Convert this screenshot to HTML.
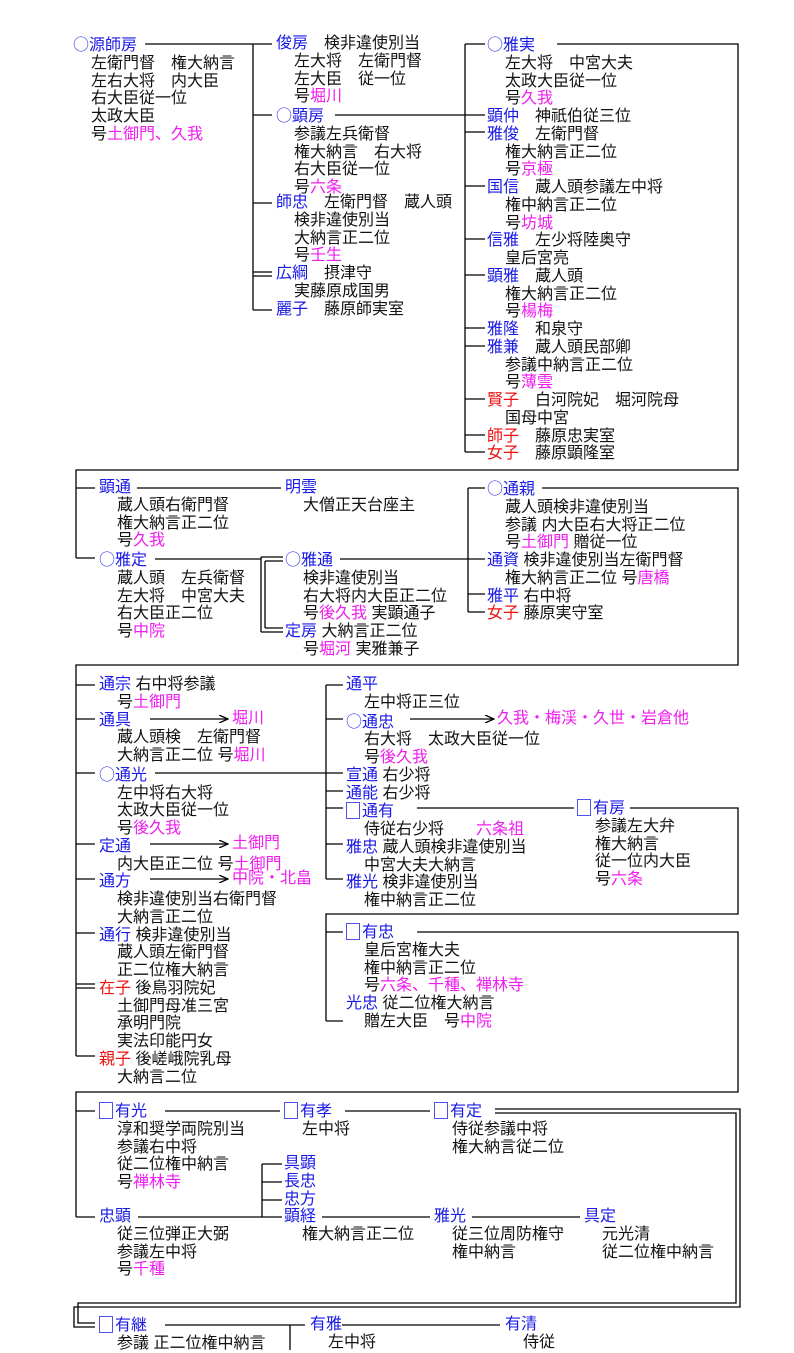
<!DOCTYPE html>
<html><head><meta charset="utf-8">
<style>
html,body{margin:0;padding:0;background:#fff;}
body{width:794px;height:1350px;position:relative;overflow:hidden;font-family:"Liberation Sans","Noto Sans CJK JP",sans-serif;font-size:16px;color:#111;}
.b{position:absolute;line-height:17.75px;white-space:pre;}
.b div+div{padding-left:18px;}
.n{color:#1a1ae6;}
.p{color:#f01cf0;}
.r{color:#f01010;}
.c{font-family:"Noto Sans CJK JP",sans-serif;font-weight:300;}
.q{display:inline-block;width:14px;height:17px;border:1px solid #5050ee;vertical-align:-3px;margin-right:2px;box-sizing:border-box;}
svg{position:absolute;left:0;top:0;}
</style></head><body>
<svg width="794" height="1350" stroke="#000" stroke-width="1.3" fill="none">
<defs><marker id="a" markerWidth="10" markerHeight="8" refX="9" refY="4" orient="auto" markerUnits="userSpaceOnUse"><path d="M0,0 L9,4 L0,8" stroke="#000" fill="none"/></marker></defs>
<path d="M145 44H253M253 44V310M253 44H272M253 115H272M253 203H272M253 272H272M253 276H272M253 310H272"/>
<path d="M335 115H465"/>
<path d="M465 44V452M465 44H485M465 115H485M465 132H485M465 186H485M465 239H485M465 275H485M465 328H485M465 346H485M465 399H485M465 435H485M465 452H485"/>
<path d="M557 44H738V470H76V558M76 488H95M76 558H95"/>
<path d="M137 488H281M155 559H261"/>
<path d="M261 557H283M265 561H283M261 557V632M265 561V628M265 628H283M261 632H283"/>
<path d="M340 559H468M468 488V612M468 488H485M468 559H485M468 594H485M468 612H485"/>
<path d="M542 488H738V665H76V1056"/>
<path d="M76 685H95M76 719H95M76 773H95M76 844H95M76 879H95M76 933H95M76 984H95M76 988H95M76 1056H95"/>
<path d="M150 719H228" marker-end="url(#a)"/>
<path d="M150 844H228" marker-end="url(#a)"/>
<path d="M150 879H228" marker-end="url(#a)"/>
<path d="M410 719H494" marker-end="url(#a)"/>
<path d="M155 773H326M326 685V879M326 685H343M326 719H343M326 773H343M326 791H343M326 808H343M326 844H343M326 879H343"/>
<path d="M417 808H574M630 808H738V914H326V1021M326 932H343M326 1021H343"/>
<path d="M417 932H738V1092H76V1217M76 1111H95M76 1217H95"/>
<path d="M165 1111H280M345 1111H430"/>
<path d="M495 1109H740V1307H74V1327H95M495 1113H736V1303H78V1323H95"/>
<path d="M138 1217H282M262 1164V1217M262 1164H282M262 1182H282M262 1200H282M322 1217H430M472 1217H580"/>
<path d="M165 1325H305M290 1325V1350M342 1325H500"/>
</svg>

<div class="b" style="left:73px;top:35px"><div class="n"><span class="c">○</span>源師房</div><div>左衛門督　権大納言</div><div>左右大将　内大臣</div><div>右大臣従一位</div><div>太政大臣</div><div>号<span class="p">土御門、久我</span></div></div>
<div class="b" style="left:276px;top:35px"><div><span class="n">俊房</span>　検非違使別当</div><div>左大将　左衛門督</div><div>左大臣　従一位</div><div>号<span class="p">堀川</span></div></div>
<div class="b" style="left:276px;top:106px"><div class="n"><span class="c">○</span>顕房</div><div>参議左兵衛督</div><div>権大納言　右大将</div><div>右大臣従一位</div><div>号<span class="p">六条</span></div></div>
<div class="b" style="left:276px;top:194px"><div><span class="n">師忠</span>　左衛門督　蔵人頭</div><div>検非違使別当</div><div>大納言正二位</div><div>号<span class="p">壬生</span></div></div>
<div class="b" style="left:276px;top:265px"><div><span class="n">広綱</span>　摂津守</div><div>実藤原成国男</div></div>
<div class="b" style="left:276px;top:301px"><div><span class="n">麗子</span>　藤原師実室</div></div>

<div class="b" style="left:487px;top:35px"><div class="n"><span class="c">○</span>雅実</div><div>左大将　中宮大夫</div><div>太政大臣従一位</div><div>号<span class="p">久我</span></div><div style="padding-left:0"><span class="n">顕仲</span>　神祇伯従三位</div><div style="padding-left:0"><span class="n">雅俊</span>　左衛門督</div><div>権大納言正二位</div><div>号<span class="p">京極</span></div><div style="padding-left:0"><span class="n">国信</span>　蔵人頭参議左中将</div><div>権中納言正二位</div><div>号<span class="p">坊城</span></div><div style="padding-left:0"><span class="n">信雅</span>　左少将陸奥守</div><div>皇后宮亮</div><div style="padding-left:0"><span class="n">顕雅</span>　蔵人頭</div><div>権大納言正二位</div><div>号<span class="p">楊梅</span></div><div style="padding-left:0"><span class="n">雅隆</span>　和泉守</div><div style="padding-left:0"><span class="n">雅兼</span>　蔵人頭民部卿</div><div>参議中納言正二位</div><div>号<span class="p">薄雲</span></div><div style="padding-left:0"><span class="r">賢子</span>　白河院妃　堀河院母</div><div>国母中宮</div><div style="padding-left:0"><span class="r">師子</span>　藤原忠実室</div><div style="padding-left:0"><span class="r">女子</span>　藤原顕隆室</div></div>

<div class="b" style="left:99px;top:479px"><div class="n">顕通</div><div>蔵人頭右衛門督</div><div>権大納言正二位</div><div>号<span class="p">久我</span></div></div>
<div class="b" style="left:285px;top:479px"><div class="n">明雲</div><div>大僧正天台座主</div></div>
<div class="b" style="left:99px;top:550px"><div class="n"><span class="c">○</span>雅定</div><div>蔵人頭　左兵衛督</div><div>左大将　中宮大夫</div><div>右大臣正二位</div><div>号<span class="p">中院</span></div></div>
<div class="b" style="left:285px;top:550px"><div class="n"><span class="c">○</span>雅通</div><div>検非違使別当</div><div>右大将内大臣正二位</div><div>号<span class="p">後久我</span> 実顕通子</div><div style="padding-left:0"><span class="n">定房</span> 大納言正二位</div><div>号<span class="p">堀河</span> 実雅兼子</div></div>
<div class="b" style="left:487px;top:479px"><div class="n"><span class="c">○</span>通親</div><div>蔵人頭検非違使別当</div><div>参議 内大臣右大将正二位</div><div>号<span class="p">土御門</span> 贈従一位</div><div style="padding-left:0"><span class="n">通資</span> 検非違使別当左衛門督</div><div>権大納言正二位 号<span class="p">唐橋</span></div><div style="padding-left:0"><span class="n">雅平</span> 右中将</div><div style="padding-left:0"><span class="r">女子</span> 藤原実守室</div></div>

<div class="b" style="left:99px;top:676px"><div><span class="n">通宗</span> 右中将参議</div><div>号<span class="p">土御門</span></div><div style="padding-left:0"><span class="n">通具</span></div><div>蔵人頭検　左衛門督</div><div>大納言正二位 号<span class="p">堀川</span></div><div style="padding-left:0" class="n"><span class="c">○</span>通光</div><div>左中将右大将</div><div>太政大臣従一位</div><div>号<span class="p">後久我</span></div><div style="padding-left:0" class="n">定通</div><div>内大臣正二位 号<span class="p">土御門</span></div><div style="padding-left:0" class="n">通方</div><div>検非違使別当右衛門督</div><div>大納言正二位</div><div style="padding-left:0"><span class="n">通行</span> 検非違使別当</div><div>蔵人頭左衛門督</div><div>正二位権大納言</div><div style="padding-left:0"><span class="r">在子</span> 後鳥羽院妃</div><div>土御門母准三宮</div><div>承明門院</div><div>実法印能円女</div><div style="padding-left:0"><span class="r">親子</span> 後嵯峨院乳母</div><div>大納言二位</div></div>
<div class="b p" style="left:232px;top:710px">堀川</div>
<div class="b p" style="left:232px;top:835px">土御門</div>
<div class="b p" style="left:232px;top:870px">中院・北畠</div>

<div class="b" style="left:346px;top:676px"><div class="n">通平</div><div>左中将正三位</div><div style="padding-left:0" class="n"><span class="c">○</span>通忠</div><div>右大将　太政大臣従一位</div><div>号<span class="p">後久我</span></div><div style="padding-left:0"><span class="n">宣通</span> 右少将</div><div style="padding-left:0"><span class="n">通能</span> 右少将</div><div style="padding-left:0" class="n"><span class="q"></span>通有</div><div>侍従右少将　　<span class="p">六条祖</span></div><div style="padding-left:0"><span class="n">雅忠</span> 蔵人頭検非違使別当</div><div>中宮大夫大納言</div><div style="padding-left:0"><span class="n">雅光</span> 検非違使別当</div><div>権中納言正二位</div></div>
<div class="b p" style="left:497px;top:710px">久我・梅渓・久世・岩倉他</div>
<div class="b" style="left:577px;top:799px"><div class="n"><span class="q"></span>有房</div><div>参議左大弁</div><div>権大納言</div><div>従一位内大臣</div><div>号<span class="p">六条</span></div></div>
<div class="b" style="left:346px;top:923px"><div class="n"><span class="q"></span>有忠</div><div>皇后宮権大夫</div><div>権中納言正二位</div><div>号<span class="p">六条、千種、禅林寺</span></div><div style="padding-left:0"><span class="n">光忠</span> 従二位権大納言</div><div>贈左大臣　号<span class="p">中院</span></div></div>

<div class="b" style="left:99px;top:1102px"><div class="n"><span class="q"></span>有光</div><div>淳和奨学両院別当</div><div>参議右中将</div><div>従二位権中納言</div><div>号<span class="p">禅林寺</span></div></div>
<div class="b" style="left:284px;top:1102px"><div class="n"><span class="q"></span>有孝</div><div>左中将</div></div>
<div class="b" style="left:434px;top:1102px"><div class="n"><span class="q"></span>有定</div><div>侍従参議中将</div><div>権大納言従二位</div></div>
<div class="b n" style="left:284px;top:1155px"><div>具顕</div><div style="padding-left:0">長忠</div><div style="padding-left:0">忠方</div></div>
<div class="b" style="left:99px;top:1208px"><div class="n">忠顕</div><div>従三位弾正大弼</div><div>参議左中将</div><div>号<span class="p">千種</span></div></div>
<div class="b" style="left:284px;top:1208px"><div class="n">顕経</div><div>権大納言正二位</div></div>
<div class="b" style="left:434px;top:1208px"><div class="n">雅光</div><div>従三位周防権守</div><div>権中納言</div></div>
<div class="b" style="left:584px;top:1208px"><div class="n">具定</div><div>元光清</div><div>従二位権中納言</div></div>
<div class="b" style="left:99px;top:1316px"><div class="n"><span class="q"></span>有継</div><div>参議 正二位権中納言</div></div>
<div class="b" style="left:310px;top:1316px"><div class="n">有雅</div><div>左中将</div></div>
<div class="b" style="left:505px;top:1316px"><div class="n">有清</div><div>侍従</div></div>
</body></html>
